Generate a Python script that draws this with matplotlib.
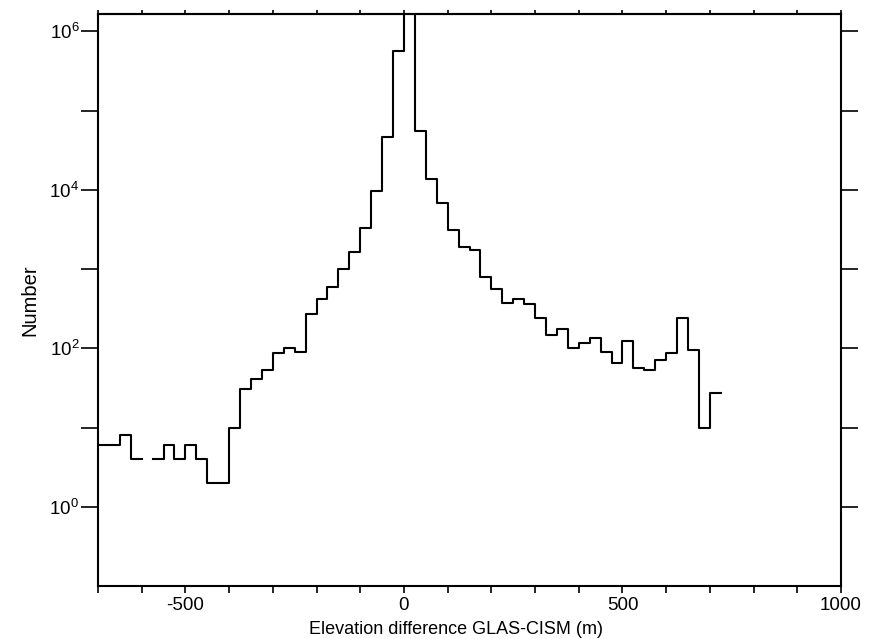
import numpy as np
import matplotlib
matplotlib.use("Agg")
import matplotlib.pyplot as plt
from matplotlib.ticker import FixedLocator, NullFormatter

plt.rcParams['font.family'] = ['Liberation Sans', 'DejaVu Sans']
plt.rcParams['mathtext.fontset'] = 'custom'
plt.rcParams['mathtext.rm'] = 'Liberation Sans'
plt.rcParams['mathtext.it'] = 'Liberation Sans:italic'
plt.rcParams['mathtext.bf'] = 'Liberation Sans:bold'

# Histogram bins (25 m wide), left edges from -700 m
bin_width = 25
bin_left = np.arange(-700, 725, bin_width)
counts = [6, 6, 8, 4, 0, 4, 6, 4, 6, 4, 2, 2, 10, 31, 41, 53, 87, 101, 91, 275,
          424, 590, 1000, 1640, 3300, 9700, 47000, 570000, 3500000, 55000, 13700,
          6900, 3100, 1900, 1740, 802, 567, 373, 420, 366, 244, 149, 176, 101,
          118, 136, 90, 65, 123, 57, 54, 72, 87, 240, 95, 10, 27]

y_major = [1, 1e2, 1e4, 1e6]
y_major_labels = ['10$^{0}$', '10$^{2}$', '10$^{4}$', '10$^{6}$']
y_minor = [10, 1e3, 1e5]
x_major = [-500, 0, 500, 1000]
x_minor = list(range(-700, 1001, 100))

fig = plt.figure(figsize=(8.86, 6.39), dpi=100)
ax = fig.add_axes([98/886, 1-586/639, (841-98)/886, (586-14)/639])

vals = np.array(counts, dtype=float)
vals[vals <= 0] = np.nan
edges = np.append(bin_left, bin_left[-1] + bin_width)
ax.step(edges, np.append(vals, vals[-1]), where='post', color='black', lw=1.5)

ax.set_yscale('log')
ax.set_xlim(-700, 1000)
ax.set_ylim(0.1, 10**6.22)

ax.yaxis.set_major_locator(FixedLocator(y_major))
ax.set_yticklabels(y_major_labels)
ax.yaxis.set_minor_locator(FixedLocator(y_minor))
ax.yaxis.set_minor_formatter(NullFormatter())
ax.xaxis.set_major_locator(FixedLocator(x_major))
ax.set_xticklabels([str(v) for v in x_major])
ax.xaxis.set_minor_locator(FixedLocator(x_minor))

ax.tick_params(axis='y', which='both', direction='out', length=12, width=1.2,
               left=True, right=True, labelright=False, labelsize=13.5, pad=1.5)
ax.tick_params(axis='x', which='both', direction='out', length=5, width=1.2,
               bottom=True, top=False, labelsize=13.5, pad=3)

top = ax.secondary_xaxis('top')
top.xaxis.set_major_locator(FixedLocator(x_minor))
top.tick_params(axis='x', direction='out', length=3, width=1.2, labeltop=False)
top.spines['top'].set_linewidth(1.5)

for s in ax.spines.values():
    s.set_linewidth(1.5)

ax.set_xlabel('Elevation difference GLAS-CISM (m)', fontsize=13)
ax.xaxis.set_label_coords(0.482, -0.062)
ax.set_ylabel('Number', fontsize=14.5)
ax.yaxis.set_label_coords(-0.079, 0.5)

fig.savefig('out.png', dpi=100)
